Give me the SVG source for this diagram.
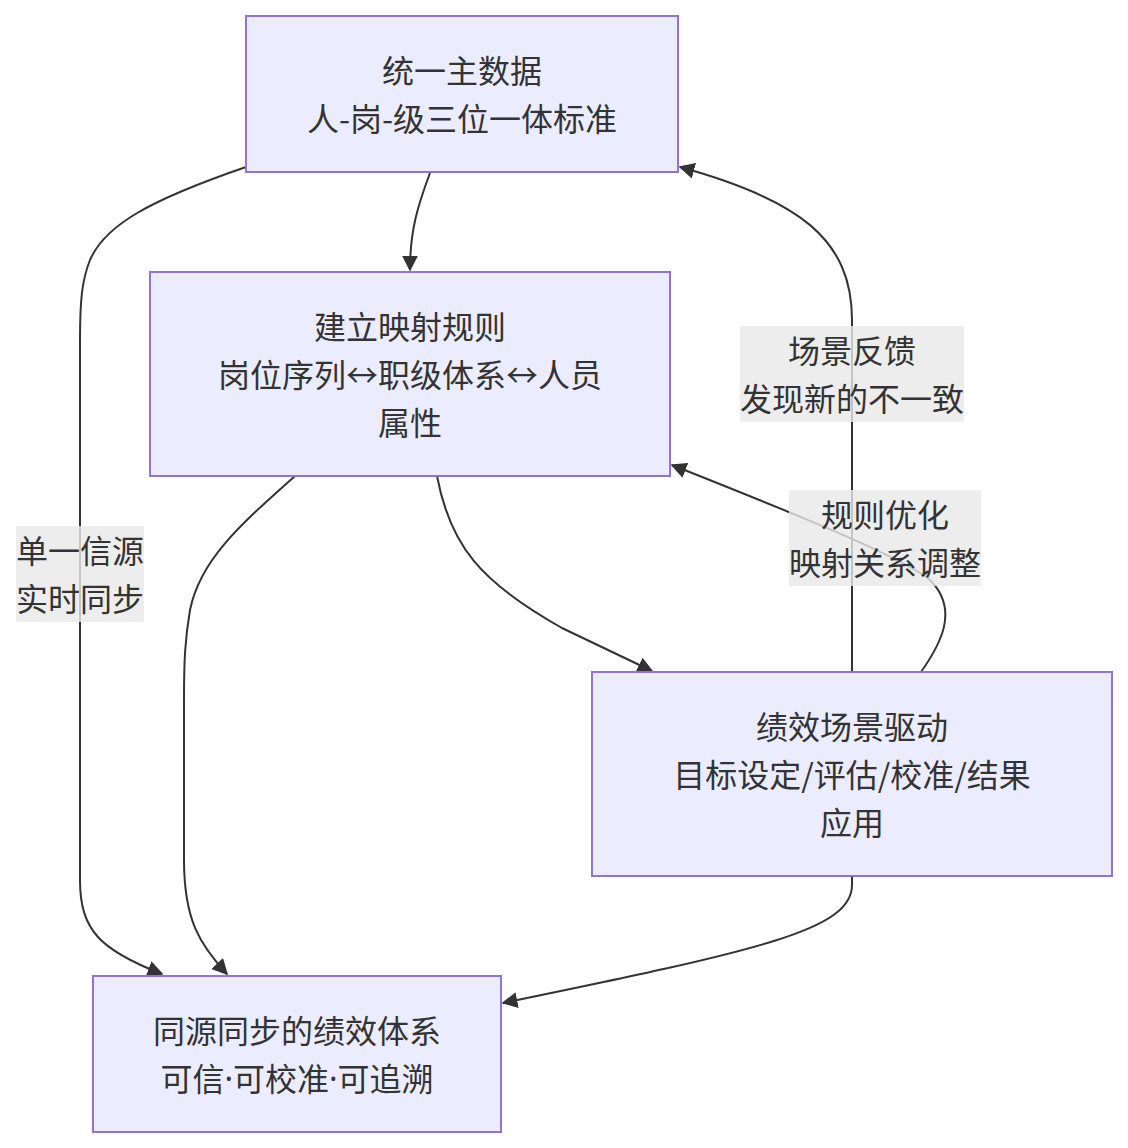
<svg xmlns="http://www.w3.org/2000/svg" width="1128" height="1148" viewBox="0 0 1128 1148">
<style>
.node rect{fill:#ECECFF;stroke:#9370DB;stroke-width:2}
text{font-family:"Noto Sans CJK SC","Noto Sans",sans-serif;font-size:32px;fill:#333;text-anchor:middle;dominant-baseline:central}
.lat{font-family:"Noto Sans","Liberation Sans",sans-serif}
.edge{fill:none;stroke:#333;stroke-width:2;marker-end:url(#arrow)}
.lbl rect{fill:#e8e8e8;opacity:0.8}
</style>
<defs>
<marker id="arrow" viewBox="0 0 10 10" refX="9" refY="5" markerWidth="16" markerHeight="16" markerUnits="userSpaceOnUse" orient="auto">
<path d="M0,0 L10,5 L0,10 z" fill="#333"/>
</marker>
</defs>
<rect width="1128" height="1148" fill="#fff"/>
<g id="connectors">
<path class="edge" d="M430,173 C418,205 410,230 410,270"/>
<path class="edge" d="M246,167 C150,200 105,225 90,260 C82,280 80,300 80,340 L80,880 C80,930 100,950 162,974"/>
<path class="edge" d="M295,476 C240,525 200,560 190,610 C185,640 184,660 184,700 L184,860 C184,920 200,945 227,974"/>
<path class="edge" d="M437,476 C450,545 480,582 562,628 L652,671"/>
<path class="edge" d="M852,672 L852,320 C852,240 800,200 680,167"/>
<path class="edge" d="M921,672 C940,645 960,610 930,580 C900,555 760,500 672,465"/>
<path class="edge" d="M852,876 L852,885 C852,930 760,950 503,1003"/>
<g class="lbl"><rect x="740" y="326" width="224" height="96"/><text x="852" y="349">场景反馈</text><text x="852" y="397">发现新的不一致</text></g>
<g class="lbl"><rect x="789" y="490" width="192" height="96"/><text x="885" y="513">规则优化</text><text x="885" y="561">映射关系调整</text></g>
<g class="lbl"><rect x="16" y="526" width="128" height="96"/><text x="80" y="549">单一信源</text><text x="80" y="597">实时同步</text></g>
</g>
<g id="A" class="node"><rect x="246" y="16" width="432" height="156"/><text x="462" y="69">统一主数据</text><text x="462" y="117">人-岗-级三位一体标准</text></g>
<g id="B" class="node"><rect x="150" y="272" width="520" height="204"/><text x="410" y="325">建立映射规则</text><text x="410" y="373">岗位序列↔职级体系↔人员</text><text x="410" y="421">属性</text></g>
<g id="C" class="node"><rect x="592" y="672" width="520" height="204"/><text x="852" y="725">绩效场景驱动</text><text x="852" y="773">目标设定/评估/校准/结果</text><text x="852" y="821">应用</text></g>
<g id="D" class="node"><rect x="93" y="976" width="408" height="156"/><text x="297" y="1029">同源同步的绩效体系</text><text x="297" y="1077">可信<tspan class="lat">·</tspan>可校准<tspan class="lat">·</tspan>可追溯</text></g>
</svg>
